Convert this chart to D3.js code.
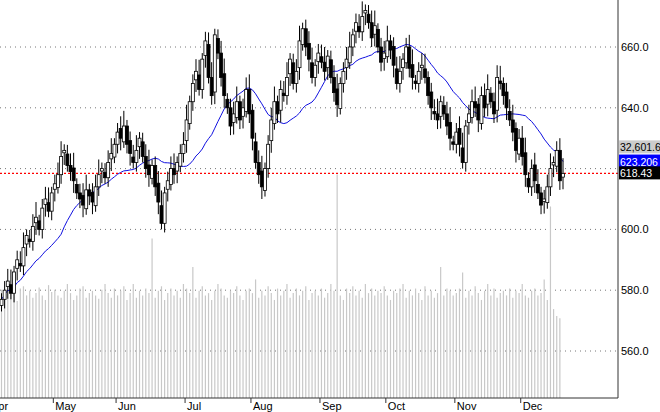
<!DOCTYPE html>
<html><head><meta charset="utf-8">
<script src="https://cdn.jsdelivr.net/npm/d3@7"></script>
<style>body{margin:0;background:#fff}svg{display:block}text{font-family:Arial,"Liberation Sans",sans-serif}</style>
</head><body><svg id="c" width="660" height="412"></svg>
<script>
const closes=[577,580,583,579,586,590,588,594,598,596,601,604,600,607,610,606,612,
615,618,624,626,621,619,616,612,610,608,613,611,609,614,618,620,617,622,625,628,
632,630,634,628,625,622,626,630,624,620,618,621,614,609,602,612,616,620,618,622,625,628,
636,642,648,652,646,656,662,650,644,664,658,650,644,640,634,638,642,636,640,646,638,
630,622,618,614,620,628,636,642,638,646,644,650,656,648,652,662,666,660,656,650,654,658,
655,652,657,650,645,641,648,652,656,660,664,668,665,670,672,668,663,667,660,655,658,
662,659,654,648,652,656,660,653,650,648,652,654,650,644,640,638,636,642,638,634,630,628,
632,628,622,634,638,642,640,636,644,640,646,642,638,650,648,644,640,636,632,626,630,
624,618,614,620,616,612,608,610,614,620,622,626,616,618.43];
const volumes=[95,90,88,100,92,85,96,98,90,94,88,92,97,90,86,99,93,
95,90,88,94,100,92,86,90,96,98,88,92,94,90,87,95,100,92,88,96,
90,94,98,86,92,100,88,94,90,96,92,140,88,94,98,86,92,96,90,94,88,
100,96,92,115,88,94,98,90,92,86,94,100,96,90,88,94,92,98,90,86,94,
96,92,104,88,94,90,98,92,86,96,90,94,100,88,92,96,90,94,98,86,92,94,
90,96,88,92,100,94,196,90,86,96,92,98,90,94,88,100,92,96,90,94,92,
98,90,86,94,92,96,100,88,94,90,96,92,86,98,90,94,88,92,115,90,96,94,
90,92,96,110,88,94,90,98,92,86,94,100,90,96,88,92,94,90,96,88,94,
92,100,90,88,94,96,90,92,104,86,168,78,72,70];
const months=[{l:"Apr",i:-1},{l:"May",i:17},{l:"Jun",i:37},{l:"Jul",i:59},{l:"Aug",i:80},{l:"Sep",i:102},{l:"Oct",i:123},{l:"Nov",i:145},{l:"Dec",i:166}];
const priceTicks=[560,580,600,620,640,660];

const svg=d3.select("#c");
const x=d3.scaleLinear().domain([0,179]).range([1.5,563]);
const y=d3.scaleLinear().domain([560,660]).range([351,47]);
const yv=d3.scaleLinear().domain([0,200]).range([398,170]);
const R=618,B=398;
priceTicks.forEach(p=>{
 svg.append("line").attr("x1",0).attr("x2",R).attr("y1",y(p)).attr("y2",y(p)).attr("stroke","#777").attr("stroke-dasharray","1,4");
 svg.append("text").attr("x",R+3).attr("y",y(p)+4).attr("font-size",11).text(p.toFixed(1));
});
svg.selectAll(".v").data(volumes).join("line").attr("x1",(d,i)=>x(i)).attr("x2",(d,i)=>x(i))
 .attr("y1",B).attr("y2",d=>yv(d)).attr("stroke","#c8c8c8").attr("stroke-width",1.2);
const ma=closes.map((c,i)=>{const s=closes.slice(Math.max(0,i-19),i+1);return d3.mean(s);});
svg.append("path").attr("d",d3.line().x((d,i)=>x(i)).y(d=>y(d))(ma)).attr("fill","none").attr("stroke","#1010e0").attr("stroke-width",1);
const last=closes[closes.length-1];
svg.append("line").attr("x1",0).attr("x2",R).attr("y1",y(last)).attr("y2",y(last)).attr("stroke","#f00").attr("stroke-width",1.2).attr("stroke-dasharray","2,2");
closes.forEach((c,i)=>{
 const o=i?closes[i-1]+((i%3)-1)*1.2:575;
 const hi=Math.max(o,c)+2+(i%4),lo=Math.min(o,c)-2-(i%3);
 const g=svg.append("g");
 g.append("line").attr("x1",x(i)).attr("x2",x(i)).attr("y1",y(hi)).attr("y2",y(lo)).attr("stroke","#000");
 const t=y(Math.max(o,c)),b=y(Math.min(o,c));
 g.append("rect").attr("x",x(i)-1.5).attr("y",t).attr("width",3).attr("height",Math.max(1,b-t))
  .attr("fill",c>=o?"#fff":"#000").attr("stroke","#000").attr("stroke-width",0.8);
});
svg.append("line").attr("x1",R).attr("x2",R).attr("y1",0).attr("y2",B).attr("stroke","#333");
svg.append("line").attr("x1",0).attr("x2",R).attr("y1",B).attr("y2",B).attr("stroke","#333");
months.forEach(m=>{const xx=x(m.i)-1.5;
 svg.append("line").attr("x1",xx).attr("x2",xx).attr("y1",B).attr("y2",B+5).attr("stroke","#333");
 svg.append("text").attr("x",m.l=="Apr"?-9:xx+2).attr("y",B+12).attr("font-size",11).text(m.l);
});
function box(yy,txt,bg,fg){svg.append("rect").attr("x",R+1).attr("y",yy-7).attr("width",41).attr("height",13).attr("fill",bg);
 svg.append("text").attr("x",R+2).attr("y",yy+4).attr("font-size",10.5).attr("fill",fg).text(txt);}
box(y(last)-26,"32,601.62","#ccc","#000");
box(y(ma[ma.length-1]),"623.206","#0000ff","#fff");
box(y(last),"618.43","#000","#fff");
</script></body></html>
